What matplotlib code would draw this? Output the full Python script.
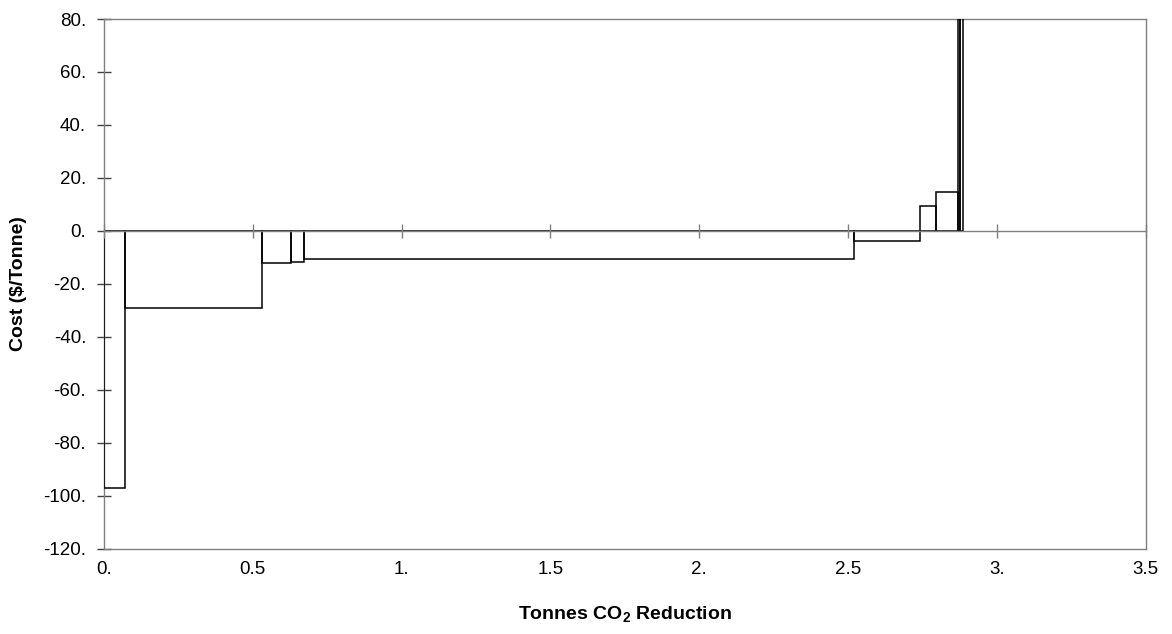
import matplotlib
matplotlib.use("Agg")
import matplotlib.pyplot as plt
import numpy as np

# ---- data ----
cum_reduction = [0.0696, 0.532, 0.628, 0.671, 2.521, 2.742, 2.795, 2.871, 2.877, 2.886]  # right edge of each step
cost = [-97.0, -29.3, -12.3, -11.7, -10.5, -3.7, 9.5, 14.8, 400.0, 400.0]               # $/tonne
xticks = [0.0, 0.5, 1.0, 1.5, 2.0, 2.5, 3.0, 3.5]
xtick_labels = ["0.", "0.5", "1.", "1.5", "2.", "2.5", "3.", "3.5"]
yticks = [-120, -100, -80, -60, -40, -20, 0, 20, 40, 60, 80]
ytick_labels = ["-120.", "-100.", "-80.", "-60.", "-40.", "-20.", "0.", "20.", "40.", "60.", "80."]

plt.rcParams['font.family'] = ['Liberation Sans', 'DejaVu Sans']
plt.rcParams['mathtext.fontset'] = 'custom'
plt.rcParams['mathtext.rm'] = 'Liberation Sans:bold'
plt.rcParams['mathtext.bf'] = 'Liberation Sans:bold'
plt.rcParams['mathtext.default'] = 'bf'

fig = plt.figure(figsize=(11.72, 6.34), dpi=100)
ax = fig.add_axes([104/1172, 1 - 548.5/634, (1145.7-104)/1172, (548.5-19)/634])

starts = np.concatenate([[0.0], cum_reduction[:-1]])
widths = np.array(cum_reduction) - starts
ax.bar(starts, cost, width=widths, align='edge', facecolor='none',
       edgecolor='black', linewidth=1.1, zorder=3)

ax.set_xlim(0, 3.5)
ax.set_ylim(-120, 80)

grey = '#808080'
for s in ax.spines.values():
    s.set_color(grey)
    s.set_linewidth(1.0)

ax.set_yticks(yticks)
ax.set_yticklabels(ytick_labels)
ax.set_xticks(xticks)
ax.set_xticklabels(xtick_labels)
ax.tick_params(axis='y', direction='inout', length=9.6, width=1.0, color='#404040',
               labelsize=13.5, pad=8)
ax.tick_params(axis='x', length=0, labelsize=13.5, pad=9)

# category axis crossing at zero, drawn above the bars
y0 = (0 - (-120)) / (80 - (-120))
sec = ax.secondary_xaxis(y0)
sec.set_zorder(5)
sec.set_xticks(xticks)
sec.tick_params(direction='inout', length=9.6, width=1.0, color=grey,
                labeltop=False, labelbottom=False)
for s in sec.spines.values():
    s.set_color(grey)
    s.set_linewidth(1.0)

ax.set_xlabel("Tonnes CO$_2$ Reduction", fontsize=14, fontweight='bold')
ax.set_ylabel(r"Cost (\$/Tonne)", fontsize=14, fontweight='bold')
ax.xaxis.set_label_coords(0.5, -0.105)
ax.yaxis.set_label_coords(-0.074, 0.5)

fig.savefig("out.png", dpi=100)
